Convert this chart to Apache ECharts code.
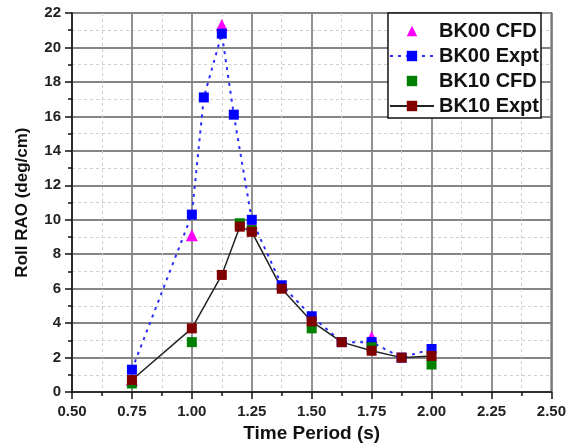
<!DOCTYPE html>
<html>
<head>
<meta charset="utf-8">
<script src="https://cdn.jsdelivr.net/npm/echarts@6/dist/echarts.min.js"></script>
<style>
  html, body { margin: 0; padding: 0; background: #fff; }
  #chart { width: 569px; height: 448px; }
</style>
</head>
<body>
<div id="chart"></div>
<script>
  // values
  var bk00CfdX = [0.75, 1.00, 1.125, 1.25, 1.75];
  var bk00CfdY = [0.7, 9.1, 21.3, 9.8, 3.2];

  var bk00ExptX = [0.75, 1.00, 1.05, 1.125, 1.175, 1.25, 1.375, 1.50, 1.625, 1.75, 1.875, 2.00];
  var bk00ExptY = [1.3, 10.3, 17.1, 20.8, 16.1, 10.0, 6.2, 4.4, 2.9, 2.9, 2.0, 2.5];

  var bk10CfdX = [0.75, 1.00, 1.20, 1.25, 1.50, 1.75, 2.00];
  var bk10CfdY = [0.5, 2.9, 9.8, 9.4, 3.7, 2.6, 1.6];

  var bk10ExptX = [0.75, 1.00, 1.125, 1.20, 1.25, 1.375, 1.50, 1.625, 1.75, 1.875, 2.00];
  var bk10ExptY = [0.7, 3.7, 6.8, 9.6, 9.3, 6.0, 4.1, 2.9, 2.4, 2.0, 2.1];

  function pairs(xs, ys) {
    return xs.map(function (x, i) { return [x, ys[i]]; });
  }

  var font = 'Liberation Sans, Arial, sans-serif';
  var chart = echarts.init(document.getElementById('chart'));

  function axisCommon() {
    return {
      type: 'value',
      axisLine: { show: true, onZero: false, lineStyle: { color: '#111', width: 1.5 } },
      axisTick: { show: true, length: 7, lineStyle: { color: '#111', width: 1.5 } },
      minorTick: { show: true, splitNumber: 2, length: 4, lineStyle: { color: '#111', width: 1.5 } },
      splitLine: { show: true, lineStyle: { color: '#858585', width: 1.8 } },
      minorSplitLine: { show: true, lineStyle: { color: '#cfcfcf', width: 1, type: [3, 3] } },
      axisLabel: { color: '#222', fontFamily: font, fontWeight: 'bold', fontSize: 15 },
      nameTextStyle: { color: '#111', fontFamily: font, fontWeight: 'bold', fontSize: 17 }
    };
  }

  var xAxis = axisCommon();
  xAxis.min = 0.5; xAxis.max = 2.5; xAxis.interval = 0.25;
  xAxis.name = 'Time Period (s)';
  xAxis.nameLocation = 'middle';
  xAxis.nameGap = 31;
  xAxis.nameTextStyle.fontSize = 19;
  xAxis.axisLabel.margin = 12;
  xAxis.axisLabel.formatter = function (v) { return v.toFixed(2); };

  var yAxis = axisCommon();
  yAxis.min = 0; yAxis.max = 22; yAxis.interval = 2;
  yAxis.name = 'Roll RAO (deg/cm)';
  yAxis.nameLocation = 'middle';
  yAxis.nameGap = 41;
  yAxis.axisLabel.margin = 11;

  chart.setOption({
    animation: false,
    backgroundColor: '#fff',
    grid: {
      left: 72, top: 13, right: 15, bottom: 55,
      show: true, borderColor: '#111', borderWidth: 1.5, backgroundColor: 'transparent'
    },
    xAxis: xAxis,
    yAxis: yAxis,
    legend: {
      orient: 'vertical',
      right: 28, top: 13,
      backgroundColor: '#fff',
      borderColor: '#111', borderWidth: 1.5,
      padding: [7, 2, 1, 1],
      itemWidth: 44, itemHeight: 13, itemGap: 3,
      textStyle: { color: '#111', fontFamily: font, fontWeight: 'bold', fontSize: 20, lineHeight: 22 },
      data: ['BK00 CFD', 'BK00 Expt', 'BK10 CFD', 'BK10 Expt']
    },
    series: [
      {
        name: 'BK00 CFD', type: 'line', data: pairs(bk00CfdX, bk00CfdY),
        symbol: 'triangle', symbolSize: 12,
        itemStyle: { color: '#ff00ff' },
        lineStyle: { opacity: 0, width: 0 }
      },
      {
        name: 'BK00 Expt', type: 'line', data: pairs(bk00ExptX, bk00ExptY),
        symbol: 'rect', symbolSize: 10,
        itemStyle: { color: '#0000ff' },
        lineStyle: { color: '#2a2aff', width: 2, type: [3, 5] }
      },
      {
        name: 'BK10 CFD', type: 'line', data: pairs(bk10CfdX, bk10CfdY),
        symbol: 'rect', symbolSize: 10,
        itemStyle: { color: '#008000' },
        lineStyle: { opacity: 0, width: 0 }
      },
      {
        name: 'BK10 Expt', type: 'line', data: pairs(bk10ExptX, bk10ExptY),
        symbol: 'rect', symbolSize: 10,
        itemStyle: { color: '#800000' },
        lineStyle: { color: '#222', width: 1.5 }
      }
    ]
  });
</script>
</body>
</html>
